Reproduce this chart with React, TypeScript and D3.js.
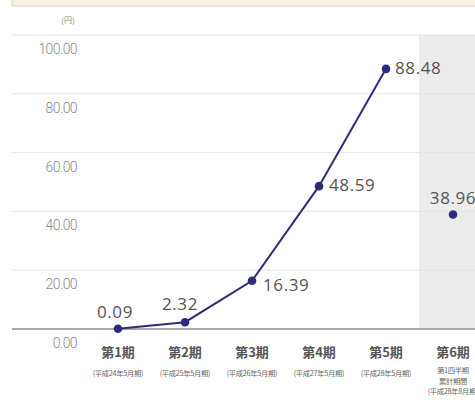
import React from "react";
import * as d3 from "d3";

const categories = ["第1期", "第2期", "第3期", "第4期", "第5期", "第6期"];
const subLabels = [
  ["(平成24年5月期)"],
  ["(平成25年5月期)"],
  ["(平成26年5月期)"],
  ["(平成27年5月期)"],
  ["(平成28年5月期)"],
  ["第1四半期", "累計期間", "(平成28年8月期)"],
];
const values = [0.09, 2.32, 16.39, 48.59, 88.48, 38.96];
const lineCount = 5; // first five periods connected
const yTicks = [0, 20, 40, 60, 80, 100];
const unitLabel = "(円)";

const W = 475;
const H = 412;

export default function App() {
  const x = d3.scalePoint<string>().domain(categories).range([118, 453]).padding(0);
  const y = d3.scaleLinear().domain([0, 100]).range([329, 35]);
  const lineGen = d3
    .line<number>()
    .x((_, i) => x(categories[i]) as number)
    .y((d) => y(d));

  const navy = "#2e2b7c";
  const labelOffsets: [number, number, string][] = [
    [-3, -11, "middle"],
    [-5, -12, "middle"],
    [11, 10, "start"],
    [10, 5, "start"],
    [9, 5, "start"],
    [0, -10, "middle"],
  ];

  return (
    <svg
      width={W}
      height={H}
      style={{ position: "absolute", left: 0, top: 0, background: "#fff" }}
    >
      <rect x={12} y={-2} width={W} height={8} fill="#f7f4e3" stroke="#dcd6ad" strokeWidth={1} />
      <text x={68} y={23} fontSize={8} fill="#888" textAnchor="middle" fontFamily="Noto Sans CJK JP">
        {unitLabel}
      </text>
      <rect x={419} y={y(100)} width={W - 419} height={y(0) - y(100)} fill="#ececec" />
      {yTicks.map((t) => (
        <g key={t}>
          <line
            x1={12}
            x2={W}
            y1={y(t)}
            y2={y(t)}
            stroke={t === 0 ? "#a8a8a8" : "#e4e4e4"}
            strokeWidth={t === 0 ? 2 : 1}
          />
          <text
            x={77}
            y={y(t) + 19}
            fontSize={14}
            fill="#8a8a8a"
            textAnchor="end"
            fontFamily="Roboto"
            fontWeight={300}
            letterSpacing={-0.6}
          >
            {t.toFixed(2)}
          </text>
        </g>
      ))}
      <path d={lineGen(values.slice(0, lineCount)) || ""} fill="none" stroke={navy} strokeWidth={2} />
      {values.map((v, i) => (
        <circle key={i} cx={x(categories[i])} cy={y(v)} r={4.3} fill={navy} />
      ))}
      {values.map((v, i) => (
        <text
          key={"l" + i}
          x={(x(categories[i]) as number) + labelOffsets[i][0]}
          y={y(v) + labelOffsets[i][1]}
          textAnchor={labelOffsets[i][2] as any}
          fontSize={17}
          fill="#555"
          fontFamily="Open Sans"
          letterSpacing={0.6}
        >
          {v.toFixed(2)}
        </text>
      ))}
      {categories.map((c, i) => (
        <g key={c}>
          <text
            x={x(c)}
            y={357}
            fontSize={13}
            fontWeight="bold"
            fill="#555"
            textAnchor="middle"
            fontFamily="Noto Sans CJK JP"
          >
            {c}
          </text>
          {subLabels[i].map((s, j) => (
            <text
              key={j}
              x={x(c)}
              y={(subLabels[i].length > 1 ? 373 : 376) + j * 10.5}
              fontSize={7.3}
              fill="#666"
              textAnchor="middle"
              fontFamily="Noto Sans CJK JP"
              letterSpacing={-0.3}
            >
              {s}
            </text>
          ))}
        </g>
      ))}
    </svg>
  );
}
